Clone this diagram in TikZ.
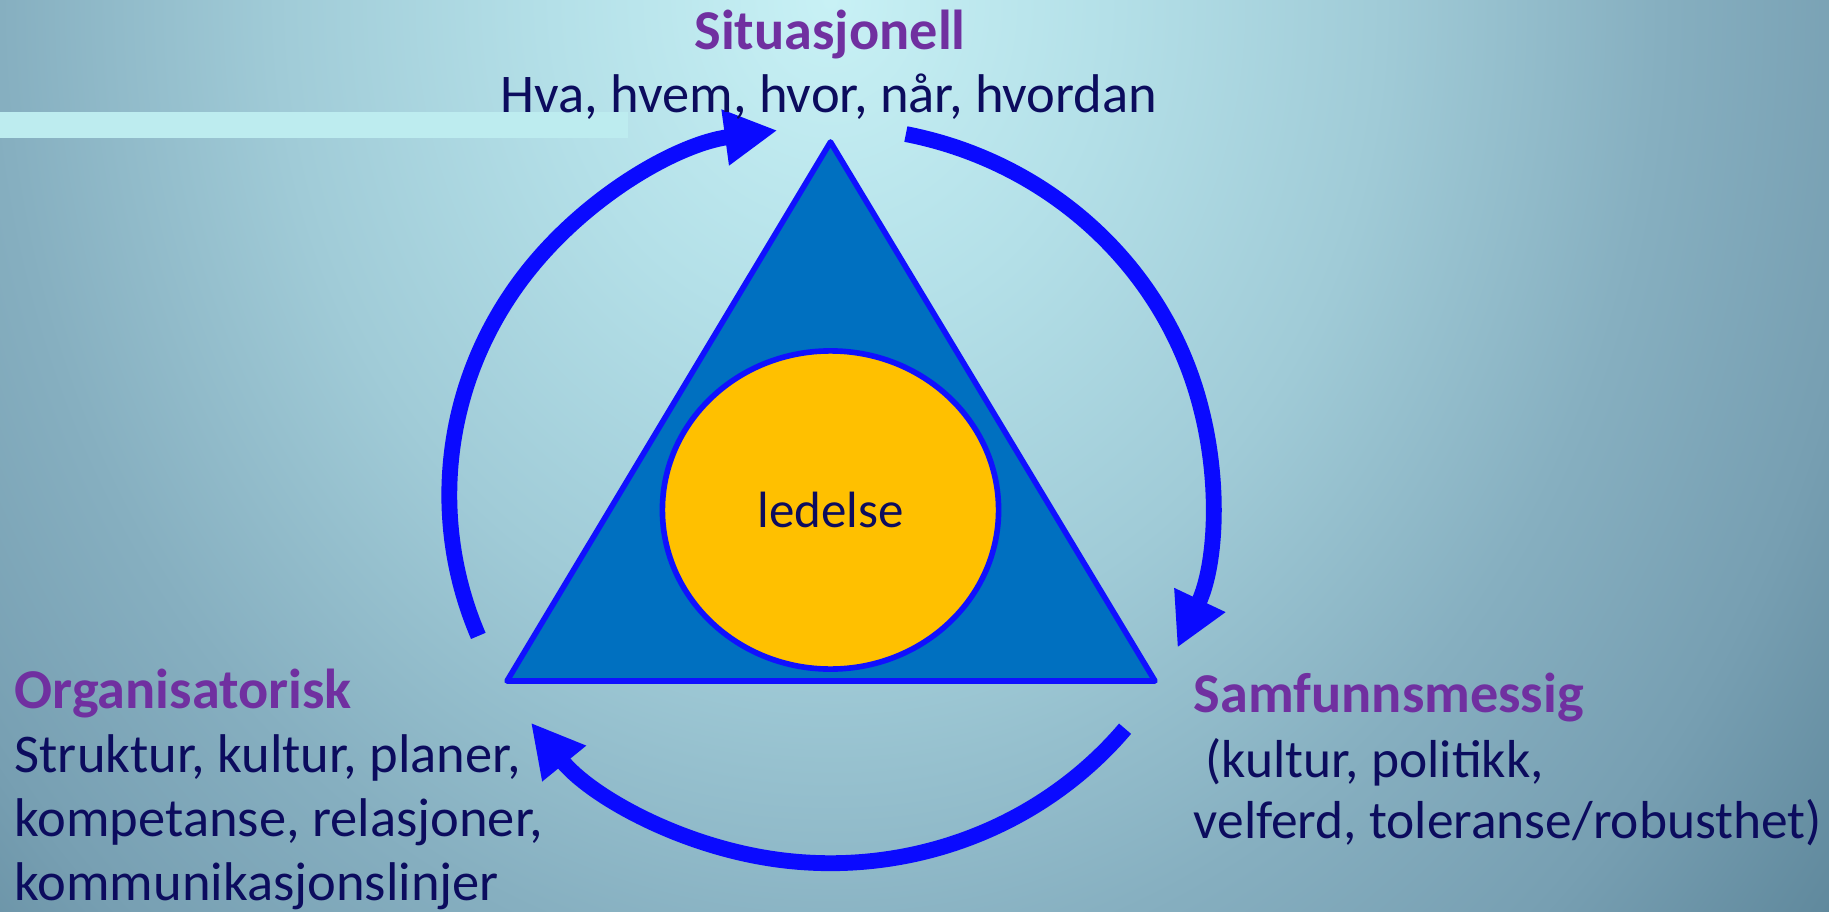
\documentclass[tikz,border=0pt]{standalone}
\usepackage{fontspec}
\setmainfont{Carlito}
\usetikzlibrary{arrows.meta, shapes.geometric, calc}

\definecolor{bgA}{HTML}{C8F1F5}
\definecolor{bgB}{HTML}{B4E0E8}
\definecolor{bgC}{HTML}{A0CBD7}
\definecolor{bgD}{HTML}{86AFC0}
\definecolor{bgE}{HTML}{779FB2}
\definecolor{bgF}{HTML}{5F889C}
\definecolor{barcyan}{HTML}{BDECEF}
\definecolor{ringblue}{HTML}{0A0AFF}
\definecolor{edgeblue}{HTML}{1010FF}
\definecolor{trifill}{HTML}{0070C0}
\definecolor{coreyellow}{HTML}{FFC000}
\definecolor{headpurple}{HTML}{7030A0}
\definecolor{textnavy}{HTML}{0C0C5E}

% the path box spans +-25bp of this shading
\pgfdeclareradialshading{bgshade}{\pgfpoint{0bp}{0bp}}{%
  color(0bp)=(bgA); color(5bp)=(bgB); color(10bp)=(bgC);
  color(15bp)=(bgD); color(19bp)=(bgE); color(23bp)=(bgF); color(50bp)=(bgF)}

\tikzset{
  heading/.style={font=\fontsize{16}{19}\selectfont\bfseries, text=headpurple, inner sep=0pt},
  bodytxt/.style={font=\fontsize{15.5}{18}\selectfont, text=textnavy, inner sep=0pt},
  cyclearrow/.style={line width=4.5pt, draw=ringblue, -{Triangle[length=15pt,width=15pt]}},
}

\begin{document}
\begin{tikzpicture}[x=0.01cm, y=0.01cm]
    % Background
    \begin{scope}
        \clip (0,0) rectangle (1829,911);
        \shade[shading=bgshade] (-553,-716) rectangle (2213,2538);
    \end{scope}
    \useasboundingbox (0,0) rectangle (1829,911);
    \fill[barcyan] (0,773) rectangle (628,799);

    % Triangle
    \coordinate (apex) at (830.5,769);
    \coordinate (baseR) at (1155,230);
    \coordinate (baseL) at (507,230);
    \draw[fill=trifill, draw=edgeblue, line width=1.6pt, line join=round] (apex) -- (baseR) -- (baseL) -- cycle;

    % Core
    \node[ellipse, draw=edgeblue, line width=1.6pt, fill=coreyellow, minimum width=3.36cm, minimum height=3.18cm,
          inner sep=0pt, font=\fontsize{14.5}{17}\selectfont, text=textnavy] (core) at (830.5,401) {ledelse};

    % Cycle arrows
    \coordinate (ctr) at (830.5,416);
    \draw[cyclearrow] (ctr) ++(202.5:3.81cm and 3.68cm) arc[start angle=202.5, end angle=98, x radius=3.81cm, y radius=3.68cm];
    \draw[cyclearrow] (ctr) ++(78.6:3.81cm and 3.68cm) arc[start angle=78.6, end angle=-24.5, x radius=3.81cm, y radius=3.68cm];
    \draw[cyclearrow] (ctr) ++(-39.4:3.81cm and 3.68cm) arc[start angle=-39.4, end angle=-141.8, x radius=3.81cm, y radius=3.68cm];

    % Top label
    \node[heading, anchor=base] (sitHead) at (830,862) {Situasjonell};
    \node[bodytxt, anchor=base] (sitBody) at (829,798) {Hva, hvem, hvor, når, hvordan};

    % Left label
    \node[heading, anchor=base west] (orgHead) at (14,203) {Organisatorisk};
    \foreach \txt [count=\i] in {{Struktur, kultur, planer,}, {kompetanse, relasjoner,}, {kommunikasjonslinjer}}
    {
        \node[bodytxt, anchor=base west] (orgLine\i) at (14,203-64*\i) {\txt};
    }

    % Right label
    \node[heading, anchor=base west] (samHead) at (1193,199) {Samfunnsmessig};
    \node[bodytxt, anchor=base west, font=\fontsize{15.2}{18}\selectfont] (samLine1) at (1193,134) {\ (kultur, politikk,};
    \node[bodytxt, anchor=base west, font=\fontsize{15.2}{18}\selectfont] (samLine2) at (1193,73) {velferd, toleranse/robusthet)};
\end{tikzpicture}
\end{document}
